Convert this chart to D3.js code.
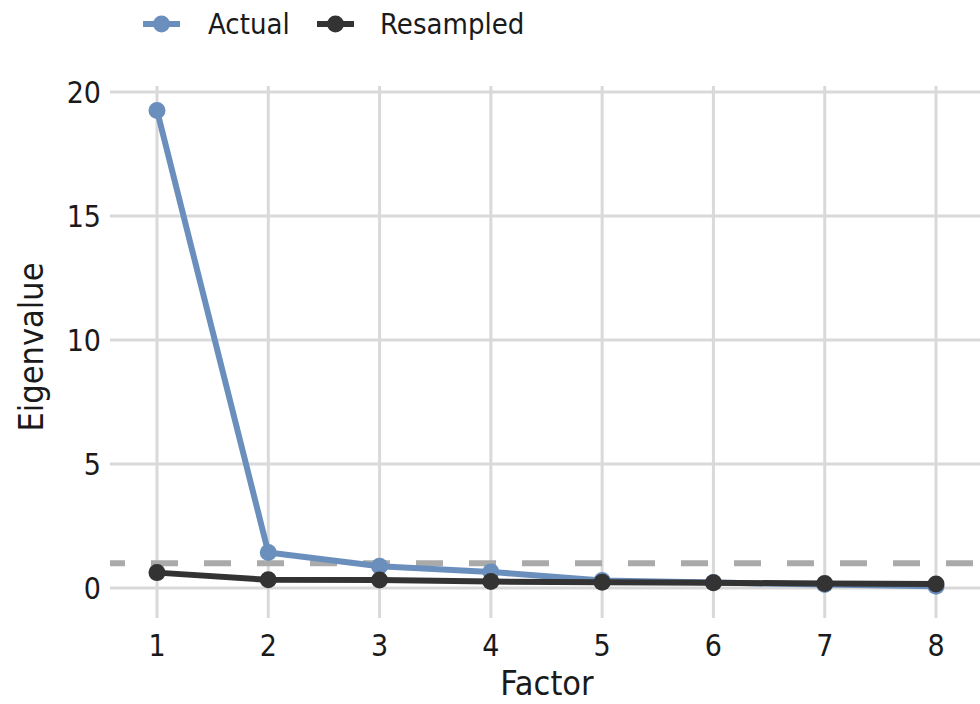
<!DOCTYPE html>
<html lang="en">
  <head>
    <meta charset="UTF-8" />
    <title>Scree plot</title>
    <script src="https://d3js.org/d3.v7.min.js"></script>
    <style>
      body {
        margin: 0;
        background: #fff;
      }
      svg text {
        font-family: "DejaVu Sans Condensed", "DejaVu Sans", sans-serif;
        fill: #1a1a1a;
      }
      .grid line {
        stroke: #d9d9d9;
        stroke-width: 3;
      }
    </style>
  </head>

  <body>
    <svg width="980" height="704"></svg>
    <script>
      const factors = [1, 2, 3, 4, 5, 6, 7, 8];
      const actual = [19.25, 1.43, 0.88, 0.65, 0.3, 0.22, 0.14, 0.07];
      const resampled = [0.62, 0.33, 0.32, 0.26, 0.23, 0.21, 0.18, 0.16];
      const yTicks = [0, 5, 10, 15, 20];
      const cutoff = 1;

      const svg = d3.select("svg");
      const panel = { left: 110, right: 984, top: 86, bottom: 618 };

      const x = d3.scaleLinear().domain([1, 8]).range([157, 936]);
      const y = d3.scaleLinear().domain([0, 20]).range([588, 92]);

      // grid
      const grid = svg.append("g").attr("class", "grid");
      grid.selectAll(".h")
        .data(yTicks)
        .enter()
        .append("line")
        .attr("x1", panel.left)
        .attr("x2", panel.right)
        .attr("y1", d => y(d))
        .attr("y2", d => y(d));
      grid.selectAll(".v")
        .data(factors)
        .enter()
        .append("line")
        .attr("x1", d => x(d))
        .attr("x2", d => x(d))
        .attr("y1", panel.top)
        .attr("y2", panel.bottom);

      // dashed cutoff at eigenvalue 1
      svg.append("line")
        .attr("x1", panel.left)
        .attr("x2", panel.right)
        .attr("y1", y(cutoff))
        .attr("y2", y(cutoff))
        .attr("stroke", "#aaaaaa")
        .attr("stroke-width", 6)
        .attr("stroke-dasharray", "27,26")
        .attr("stroke-dashoffset", 12);

      const series = [
        { name: "Actual", values: actual, color: "#6b8fbd" },
        { name: "Resampled", values: resampled, color: "#333333" }
      ];

      const line = d3.line()
        .x((d, i) => x(factors[i]))
        .y(d => y(d));

      series.forEach(function (s) {
        const g = svg.append("g");
        g.append("path")
          .datum(s.values)
          .attr("d", line)
          .attr("fill", "none")
          .attr("stroke", s.color)
          .attr("stroke-width", 6)
          .attr("stroke-linejoin", "round");
        g.selectAll("circle")
          .data(s.values)
          .enter()
          .append("circle")
          .attr("cx", (d, i) => x(factors[i]))
          .attr("cy", d => y(d))
          .attr("r", 8.5)
          .attr("fill", s.color);
      });

      // axes labels
      svg.selectAll(".ytick")
        .data(yTicks)
        .enter()
        .append("text")
        .attr("x", 101)
        .attr("y", d => y(d))
        .attr("dy", "0.36em")
        .attr("text-anchor", "end")
        .attr("font-size", 30)
        .text(d => d);

      svg.selectAll(".xtick")
        .data(factors)
        .enter()
        .append("text")
        .attr("x", d => x(d))
        .attr("y", 656)
        .attr("text-anchor", "middle")
        .attr("font-size", 30)
        .text(d => d);

      svg.append("text")
        .attr("x", 547)
        .attr("y", 695)
        .attr("text-anchor", "middle")
        .attr("font-size", 34)
        .text("Factor");

      svg.append("text")
        .attr("transform", "translate(43,347) rotate(-90)")
        .attr("text-anchor", "middle")
        .attr("font-size", 34)
        .text("Eigenvalue");

      // legend
      const legend = svg.append("g");
      const keys = [
        { s: series[0], x0: 143, tx: 208 },
        { s: series[1], x0: 317, tx: 380 }
      ];
      keys.forEach(function (k) {
        legend.append("line")
          .attr("x1", k.x0)
          .attr("x2", k.x0 + 37)
          .attr("y1", 24)
          .attr("y2", 24)
          .attr("stroke", k.s.color)
          .attr("stroke-width", 6);
        legend.append("circle")
          .attr("cx", k.x0 + 18.5)
          .attr("cy", 24)
          .attr("r", 8.5)
          .attr("fill", k.s.color);
        legend.append("text")
          .attr("x", k.tx)
          .attr("y", 24)
          .attr("dy", "0.36em")
          .attr("font-size", 29)
          .text(k.s.name);
      });
    </script>
  </body>
</html>
